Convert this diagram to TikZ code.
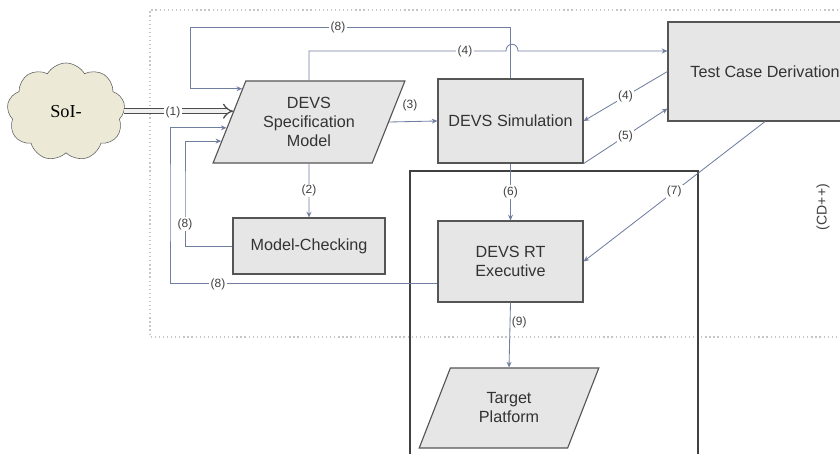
\documentclass[tikz,border=0pt]{standalone}
\usepackage{fontspec}
\setmainfont{Liberation Sans}
\newfontfamily\solfont{Liberation Serif}
\usetikzlibrary{shapes.geometric,shapes.symbols,arrows.meta,calc}
\definecolor{boxgray}{RGB}{230,230,230}
\definecolor{edgegray}{RGB}{85,85,85}
\definecolor{conncol}{RGB}{112,126,160}
\definecolor{cloudfill}{RGB}{236,234,214}
\begin{document}
\begin{tikzpicture}[x=0.025cm,y=-0.025cm,
  box/.style={draw=edgegray,fill=boxgray,line width=0.8pt,text=black!80,
    font=\fontsize{11.5}{13.5}\selectfont,align=center},
  slanted/.style={box,trapezium,trapezium stretches=true},
  conn/.style={draw=conncol,line width=0.6pt,-{Stealth[length=4pt,width=3.5pt]}},
  lbl/.style={fill=white,inner sep=1pt,text=black!75,font=\fontsize{8.5}{10}\selectfont}]
  \path[use as bounding box] (0,0) rectangle (840,453);
  \clip (0,0) rectangle (840,453);
  % frames
  \draw [gray!45,dotted,line width=0.9pt] (850,10) -- (150,10) -- (150,337) -- (850,337);
  \draw [black!75,line width=0.9pt] (410,460) -- (410,171) -- (698,171) -- (698,460);
  % blocks
  \node [cloud,cloud puffs=9,cloud puff arc=120,aspect=1.3,draw=gray!75!black,fill=cloudfill,
    minimum width=2.95cm,minimum height=2.45cm,font=\solfont\fontsize{13}{15}\selectfont] (sol) at (66,112) {SoI-};
  \node [slanted,trapezium left angle=66,trapezium right angle=114,
    minimum width=4.8cm,minimum height=2.05cm] (spec) at (309,122) {DEVS\\Specification\\Model};
  \node [box,minimum width=3.625cm,minimum height=2.1cm] (sim) at (510.5,121) {DEVS Simulation};
  \node [box,minimum width=4.85cm,minimum height=2.475cm] (tcd) at (765,71.5) {Test Case Derivation};
  \node [box,minimum width=3.8cm,minimum height=1.4cm] (mc) at (309,246) {Model-Checking};
  \node [box,minimum width=3.625cm,minimum height=2.025cm] (rt) at (510.5,261.5) {DEVS RT\\Executive};
  \node [slanted,trapezium left angle=65,trapezium right angle=115,
    minimum width=4.525cm,minimum height=2cm] (tp) at (509,408) {Target\\Platform};
  \node [rotate=90,text=black!75,font=\fontsize{10}{12}\selectfont] (cd) at (823,207) {(CD++)};
  % points on the slanted side of the model
  \coordinate (s90) at ($(spec.bottom left corner)!0.9!(spec.top left corner)$);
  \coordinate (s112) at ($(spec.bottom left corner)!0.63!(spec.top left corner)$);
  \coordinate (s128) at ($(spec.bottom left corner)!0.43!(spec.top left corner)$);
  \coordinate (s141) at ($(spec.bottom left corner)!0.27!(spec.top left corner)$);
  \coordinate (t108) at ($(tcd.south west)!0.13!(tcd.north west)$);
  \coordinate (r283) at ($(rt.south west)!0.23!(rt.north west)$);
  \coordinate (top8) at (190,27);
  \coordinate (hopa) at (506,51);
  \coordinate (hopb) at (518,51);
  % connectors
  \draw [gray!60!black,line width=0.9pt,double=gray!12,double distance=2.8pt,-{Implies}] (sol.east |- s112) -- (s112);
  \node [lbl] at (173,112) {(1)};
  \draw [conn] (sim.north) |- (top8) |- (s90);
  \node [lbl] at (338,27) {(8)};
  \draw [conn] (spec.north) |- (hopa) .. controls (506,42) and (518,42) .. (hopb) -- (tcd.west |- hopb);
  \node [lbl] at (465,51) {(4)};
  \draw [conn] (spec.east) -- (sim.west);
  \node [lbl] at (410,105) {(3)};
  \draw [conn] (tcd.west) -- node[lbl] {(4)} (sim.east);
  \draw [conn] (sim.south east) -- node[lbl] {(5)} (t108);
  \draw [conn] (spec.south) -- node[lbl] {(2)} (mc.north);
  \draw [conn] (mc.west) -| (185,200) |- (s141);
  \node [lbl] at (185,224) {(8)};
  \draw [conn] (r283) -| (170,200) |- (s128);
  \node [lbl] at (218,284) {(8)};
  \draw [conn] (sim.south) -- node[lbl] {(6)} (rt.north);
  \draw [conn] (tcd.south) -- node[lbl] {(7)} (rt.east);
  \draw [conn] (rt.south) -- node[lbl,fill=none,right,pos=0.3] {(9)} (tp.north);
\end{tikzpicture}
\end{document}
